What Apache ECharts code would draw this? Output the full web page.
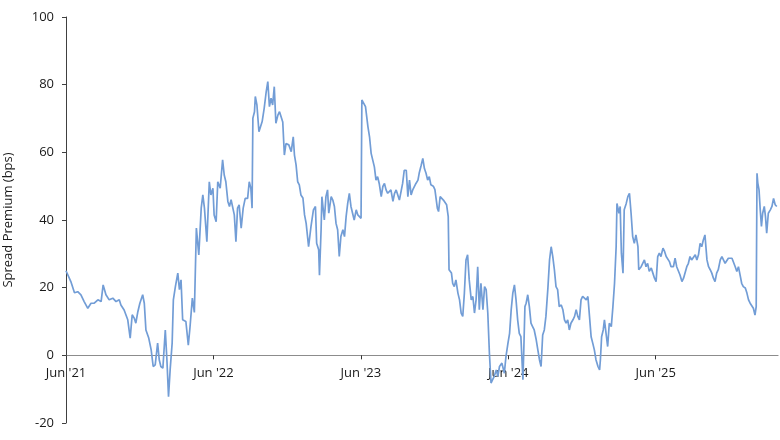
<!DOCTYPE html>
<html>
<head>
<meta charset="utf-8">
<script src="https://cdn.jsdelivr.net/npm/echarts@6/dist/echarts.min.js"></script>
<style>
html,body{margin:0;padding:0;background:#fff;}
#chart{width:780px;height:440px;}
</style>
</head>
<body>
<div id="chart"></div>
<script>
// Days elapsed since 1 June 2021
const dayOffsets = [
0,4,12,21,29,37,45,54,62,70,79,87,92,99,107,116,124,132,136,144,153,159,164,169,173,178,183,190,194,198,
205,211,216,221,227,231,235,240,246,250,254,258,263,266,271,277,281,285,289,297,303,307,313,318,323,329,
335,339,343,349,355,359,364,367,372,376,382,388,392,396,401,405,409,413,417,421,425,429,434,439,444,450,
454,458,461,463,467,469,473,478,481,486,491,496,500,504,508,512,516,520,525,529,533,537,541,545,552,558,
563,566,570,574,578,582,587,591,595,601,607,613,618,621,626,628,632,634,640,644,648,651,657,661,665,669,
673,677,681,686,690,694,698,702,706,710,714,719,723,727,731,733,737,742,745,748,752,756,760,764,768,772,
776,781,785,789,793,797,801,805,810,814,818,822,826,830,834,838,843,847,851,855,859,863,867,872,875,880,
884,888,892,896,900,904,910,914,920,923,927,935,943,947,949,955,958,962,966,971,975,979,983,987,991,995,
999,1004,1008,1012,1016,1020,1024,1028,1033,1037,1041,1045,1049,1053,1057,1061,1066,1070,1074,1080,1086,
1090,1095,1099,1103,1107,1111,1115,1119,1123,1127,1132,1134,1137,1140,1144,1148,1152,1156,1160,1165,1169,
1173,1177,1181,1185,1189,1194,1198,1202,1206,1210,1214,1218,1222,1227,1231,1235,1239,1243,1247,1251,1256,
1260,1264,1268,1272,1276,1280,1284,1289,1293,1297,1301,1305,1309,1313,1318,1322,1324,1327,1331,1334,1338,
1342,1346,1351,1355,1359,1363,1365,1370,1373,1376,1380,1383,1388,1392,1396,1400,1404,1408,1412,1417,1419,
1425,1429,1433,1437,1441,1445,1450,1454,1458,1462,1466,1470,1474,1479,1483,1487,1491,1495,1499,1505,1509,
1513,1517,1521,1526,1530,1534,1538,1542,1546,1550,1554,1559,1563,1567,1571,1575,1579,1583,1588,1592,1596,
1600,1604,1608,1612,1616,1621,1625,1629,1633,1637,1641,1645,1650,1654,1658,1662,1666,1670,1674,1678,1683,
1687,1691,1695,1699,1703,1707,1710,1712,1714,1717,1720,1723,1726,1730,1733,1736,1740,1745,1749,1753,1757,1761
];
// Spread premium, bps
const spreadBps = [
25.0,24.6,21.8,18.5,18.8,17.9,15.9,13.9,15.4,15.4,16.4,15.9,20.8,17.9,16.4,16.9,15.9,16.4,14.9,13.4,10.5,5.1,12.0,11.0,9.5,12.9,15.4,17.9,15.4,7.5,
5.1,1.6,-3.3,-2.8,3.6,-1.3,-3.3,-3.8,7.5,-1.3,-12.2,-4.3,3.6,16.4,20.3,24.3,19.4,22.3,10.5,10.0,3.0,8.0,16.9,12.7,37.6,29.7,
43.5,47.4,43.5,33.6,51.3,47.4,49.4,41.5,39.5,51.3,49.4,57.8,53.3,51.3,45.5,44.0,46.0,45.5,41.5,33.6,43.5,44.5,37.6,43.5,46.4,46.4,
51.3,49.4,43.5,70.1,72.0,76.5,74.0,66.1,66.6,69.1,73.0,77.9,80.9,73.5,76.0,74.0,79.4,68.6,71.0,72.0,71.5,69.0,59.2,62.6,62.2,60.2,
64.6,59.2,56.3,51.3,50.4,47.4,46.5,41.5,39.0,32.1,38.1,43.0,44.0,33.1,31.2,23.7,37.1,46.9,40.0,46.9,48.9,42.0,46.9,45.9,44.0,39.0,
37.1,29.2,35.1,37.1,35.1,41.0,45.0,47.9,44.0,42.0,40.0,43.0,41.5,41.0,40.5,75.5,75.0,73.5,74.0,67.6,64.6,59.7,60.2,55.7,51.8,52.8,
50.8,46.9,49.9,50.8,48.9,47.9,48.4,48.9,45.5,47.9,48.9,48.4,45.9,45.5,50.8,54.7,54.7,46.9,51.8,47.4,48.9,48.9,50.8,51.8,53.8,56.2,
58.2,55.2,53.8,51.8,52.8,50.4,50.0,49.0,43.5,42.5,46.9,45.9,44.5,41.0,25.3,24.3,21.3,20.3,22.3,18.4,16.4,12.5,11.5,18.4,28.2,29.7,
22.3,16.4,17.4,12.5,16.4,26.2,13.5,21.3,13.5,20.3,19.4,12.5,0.6,-8.2,-7.2,-6.2,-4.3,-6.2,-3.3,-2.3,-5.3,
-0.4,3.6,6.5,13.5,18.4,20.8,16.4,10.5,6.5,5.5,-7.2,0.6,14.4,15.4,17.9,14.4,9.5,8.5,7.5,4.6,1.6,
-1.3,-3.3,6.0,7.5,11.5,20.0,28.2,32.1,29.2,25.3,20.3,19.4,14.4,14.9,13.5,10.5,9.5,10.5,7.5,9.5,10.5,
11.5,13.5,11.5,10.5,16.4,17.4,17.9,16.4,17.4,11.5,5.5,3.6,1.6,-1.3,-3.3,-4.3,-1.3,5.5,7.5,10.5,6.5,
2.6,9.5,8.5,14.4,21.3,32.1,44.9,42.0,44.0,30.2,24.3,43.0,44.9,46.9,47.9,42.0,35.1,33.1,35.6,32.1,25.3,
26.2,25.8,28.2,26.2,27.2,24.8,25.8,24.3,22.8,21.8,29.2,30.2,29.2,31.7,30.7,29.2,29.7,27.7,26.2,26.2,28.7,
26.2,25.8,23.8,21.8,22.8,23.3,26.2,27.2,29.2,28.2,28.2,29.7,28.2,29.7,33.1,32.1,34.1,35.6,28.2,26.2,25.3,
24.3,22.8,21.8,24.3,25.3,28.2,29.2,28.7,27.2,27.7,28.7,29.2,28.7,29.2,26.2,24.8,26.2,23.8,21.3,20.3,19.9,
18.4,16.4,15.4,15.9,13.9,11.9,14.4,53.8,50.9,48.9,43.0,38.1,42.0,44.0,41.0,36.1,42.0,43.0,44.0,46.4,44.5,44.0
];
const yearLabels = ["Jun '21", "Jun '22", "Jun '23", "Jun '24", "Jun '25"];
const yTicks = [-20, 0, 20, 40, 60, 80, 100];

const DAYS_PER_YEAR = 365.25;
const seriesData = dayOffsets.map((d, i) => [d, spreadBps[i]]);

const GRID_TOP = 17, GRID_BOTTOM = 17, H = 440;
const yMin = yTicks[0], yMax = yTicks[yTicks.length - 1];
const plotH = H - GRID_TOP - GRID_BOTTOM;
// place the category axis on the zero line (labels included)
const zeroOffset = -plotH * (0 - yMin) / (yMax - yMin);

const chart = echarts.init(document.getElementById('chart'), null, {renderer: 'canvas'});
const font = "'Open Sans', 'Noto Sans', sans-serif";
chart.setOption({
  animation: false,
  backgroundColor: '#ffffff',
  grid: {left: 66, right: 2, top: GRID_TOP, bottom: GRID_BOTTOM, containLabel: false, outerBoundsMode: 'none'},
  xAxis: {
    type: 'value',
    min: 0,
    max: 1764,
    interval: DAYS_PER_YEAR,
    offset: zeroOffset,
    splitLine: {show: false},
    axisLine: {onZero: false, lineStyle: {color: '#8c8c8c', width: 1.2}},
    axisTick: {show: true, length: 4, lineStyle: {color: '#333333'}},
    axisLabel: {
      color: '#1a1a1a', fontFamily: font, fontSize: 13, margin: 11,
      showMaxLabel: false,
      formatter: function (v) {
        const k = Math.round(v / DAYS_PER_YEAR);
        return yearLabels[k] || '';
      }
    }
  },
  yAxis: {
    type: 'value',
    min: yMin,
    max: yMax,
    interval: 20,
    name: 'Spread Premium (bps)',
    nameLocation: 'middle',
    nameGap: 51,
    nameTextStyle: {color: '#1a1a1a', fontFamily: font, fontSize: 13},
    splitLine: {show: false},
    axisLine: {show: true, lineStyle: {color: '#404040', width: 1}},
    axisTick: {show: true, length: 4, lineStyle: {color: '#404040'}},
    axisLabel: {color: '#1a1a1a', fontFamily: font, fontSize: 13, margin: 12}
  },
  series: [{
    type: 'line',
    data: seriesData,
    showSymbol: false,
    symbol: 'none',
    lineStyle: {color: '#729dd6', width: 1.7},
    itemStyle: {color: '#729dd6'}
  }]
});
</script>
</body>
</html>
